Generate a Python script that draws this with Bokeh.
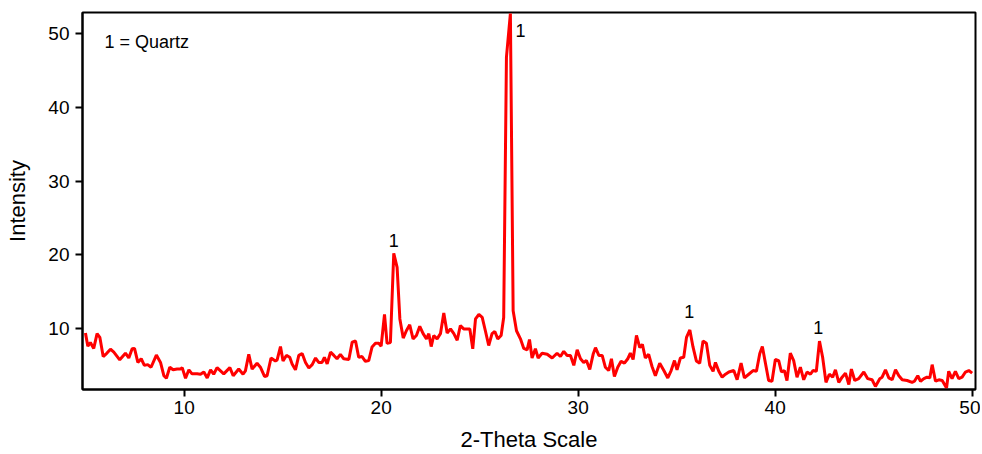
from bokeh.plotting import figure
from bokeh.models import Range1d, FixedTicker, ColumnDataSource
from bokeh.core.properties import value
from bokeh.embed import file_html
from bokeh.resources import INLINE

two_theta = [
    4.99, 5.11, 5.24, 5.41, 5.58, 5.72, 5.89, 6.06, 6.26, 6.43, 6.73, 7.02, 7.19, 7.36, 7.48,
    7.65, 7.82, 7.98, 8.15, 8.32, 8.59, 8.80, 8.97, 9.10, 9.27, 9.44, 9.64, 9.81, 9.90, 10.07,
    10.24, 10.40, 10.66, 10.83, 11.00, 11.17, 11.34, 11.50, 11.67, 12.01, 12.32, 12.49, 12.77, 12.99,
    13.11, 13.28, 13.45, 13.70, 13.87, 14.08, 14.21, 14.41, 14.63, 14.72, 14.89, 15.02, 15.19, 15.36,
    15.48, 15.65, 15.82, 15.99, 16.16, 16.33, 16.50, 16.67, 16.83, 17.00, 17.12, 17.26, 17.43, 17.60,
    17.76, 17.93, 18.10, 18.36, 18.53, 18.70, 18.86, 19.03, 19.20, 19.37, 19.54, 19.71, 19.88, 20.00,
    20.17, 20.30, 20.47, 20.64, 20.81, 20.95, 21.12, 21.28, 21.45, 21.62, 21.79, 21.96, 22.13, 22.30,
    22.42, 22.54, 22.67, 22.84, 23.01, 23.18, 23.35, 23.52, 23.69, 23.86, 24.02, 24.19, 24.36, 24.50,
    24.65, 24.79, 24.96, 25.13, 25.29, 25.46, 25.63, 25.77, 25.92, 26.09, 26.22, 26.36, 26.56, 26.70,
    26.87, 27.07, 27.24, 27.41, 27.53, 27.66, 27.83, 27.97, 28.17, 28.43, 28.68, 28.93, 29.10, 29.27,
    29.44, 29.61, 29.78, 29.95, 30.12, 30.28, 30.42, 30.59, 30.76, 30.88, 31.05, 31.22, 31.38, 31.55,
    31.69, 31.84, 32.01, 32.18, 32.35, 32.52, 32.65, 32.79, 32.96, 33.13, 33.26, 33.41, 33.58, 33.75,
    33.92, 34.14, 34.35, 34.55, 34.72, 34.89, 35.02, 35.19, 35.36, 35.50, 35.67, 35.83, 36.00, 36.17,
    36.34, 36.51, 36.68, 36.85, 36.97, 37.14, 37.31, 37.48, 37.65, 37.90, 38.07, 38.27, 38.44, 38.66,
    38.88, 39.05, 39.22, 39.35, 39.50, 39.67, 39.84, 40.01, 40.18, 40.32, 40.47, 40.60, 40.77, 40.94,
    41.11, 41.28, 41.45, 41.62, 41.79, 41.92, 42.09, 42.25, 42.41, 42.58, 42.75, 42.92, 43.06, 43.23,
    43.40, 43.57, 43.74, 43.87, 44.04, 44.24, 44.50, 44.70, 44.92, 45.09, 45.31, 45.43, 45.60, 45.77,
    45.94, 46.11, 46.28, 46.45, 46.70, 46.95, 47.07, 47.24, 47.38, 47.55, 47.71, 47.85, 47.97, 48.14,
    48.31, 48.48, 48.70, 48.81, 48.98, 49.15, 49.32, 49.49, 49.66, 49.83, 50.00,
]
intensity = [
    9.4, 7.6, 8.1, 7.3, 9.3, 8.8, 6.2, 6.6, 7.2, 6.8, 5.75, 6.65, 6.0, 7.25, 7.3,
    5.4, 5.9, 5.0, 5.1, 4.75, 6.4, 5.4, 3.6, 3.25, 4.75, 4.4, 4.5, 4.5, 4.7, 3.25,
    4.4, 3.85, 3.85, 3.8, 4.1, 3.3, 4.4, 3.8, 4.7, 3.85, 4.7, 3.6, 4.5, 3.8,
    4.25, 6.5, 4.5, 5.3, 4.75, 3.5, 3.6, 6.0, 5.6, 5.75, 7.55, 5.6, 6.35, 6.1,
    5.2, 4.4, 6.35, 6.6, 5.4, 4.65, 5.1, 6.0, 5.4, 5.4, 6.1, 5.2, 6.8, 6.35,
    5.9, 6.5, 5.9, 5.8, 8.15, 8.3, 6.1, 6.2, 5.55, 5.65, 7.5, 8.0, 8.0, 7.6,
    11.9, 8.0, 8.1, 20.2, 18.3, 11.3, 8.7, 9.7, 10.5, 8.6, 9.05, 10.3, 9.3, 8.6,
    9.3, 7.55, 9.05, 8.6, 9.3, 12.1, 9.4, 9.95, 9.3, 8.4, 10.4, 9.95, 9.95, 9.95,
    7.25, 11.3, 11.9, 11.5, 9.7, 7.7, 9.3, 9.6, 8.6, 9.05, 11.5, 46.8, 52.7, 12.4,
    9.7, 8.6, 7.3, 7.1, 8.5, 6.0, 7.25, 6.0, 6.65, 6.5, 6.0, 6.65, 6.2, 6.9,
    6.35, 6.35, 5.0, 7.1, 5.9, 5.4, 5.65, 4.45, 6.5, 7.4, 6.35, 6.35, 4.75, 4.3,
    5.9, 3.5, 4.75, 5.55, 5.3, 5.9, 6.65, 5.8, 9.05, 7.4, 7.85, 6.0, 6.5, 4.85,
    3.6, 5.3, 4.3, 3.3, 4.3, 5.65, 4.4, 6.0, 6.1, 8.8, 9.8, 7.5, 5.6, 5.3,
    8.3, 8.0, 5.0, 4.2, 5.4, 4.2, 3.4, 3.8, 4.1, 4.3, 3.05, 5.3, 3.3, 3.8,
    4.3, 4.2, 6.6, 7.55, 5.4, 2.95, 2.85, 5.8, 5.65, 4.1, 4.3, 2.95, 6.65, 5.65,
    3.4, 4.75, 3.05, 4.1, 3.8, 4.3, 4.2, 8.3, 6.1, 2.7, 3.8, 3.4, 4.4, 2.7,
    3.4, 3.95, 2.4, 4.5, 2.95, 3.2, 4.1, 3.2, 3.05, 2.15, 3.2, 3.4, 4.4, 3.3,
    3.05, 4.4, 3.6, 3.05, 2.95, 2.7, 2.85, 3.6, 2.85, 3.2, 3.4, 3.3, 5.1, 2.85,
    3.05, 2.95, 1.95, 4.2, 3.2, 4.2, 3.2, 3.4, 4.1, 4.3, 3.95,
]

peak_label_x = [20.64, 27.07, 35.64, 42.19]
peak_label_y = [21.9, 50.4, 12.3, 10.1]
peak_label_text = ["1", "1", "1", "1"]

legend_note = "1 = Quartz"
x_ticks = [10, 20, 30, 40, 50]
y_ticks = [10, 20, 30, 40, 50]

FONT = "Liberation Sans"

p = figure(width=980, height=454, output_backend="svg", toolbar_location=None,
           x_range=Range1d(4.84, 50.17), y_range=Range1d(1.73, 52.85),
           min_border_left=82, min_border_right=5, min_border_top=12, min_border_bottom=65)

p.line(two_theta, intensity, line_color="#ff0000", line_width=3)

src = ColumnDataSource(dict(x=peak_label_x, y=peak_label_y, t=peak_label_text))
p.text(x="x", y="y", text="t", source=src, text_align="center", text_baseline="middle",
       text_font=value(FONT), text_font_size="18px", text_color="black")
p.text(x=[5.96], y=[48.9], text=[legend_note], text_align="left", text_baseline="middle",
       text_font=value(FONT), text_font_size="18px", text_color="black")

p.grid.visible = False
p.outline_line_color = "black"
p.outline_line_width = 2
p.outline_line_alpha = 1

for ax in (p.xaxis[0], p.yaxis[0]):
    ax.axis_line_width = 2
    ax.axis_line_color = "black"
    ax.major_tick_line_width = 2
    ax.major_tick_line_color = "black"
    ax.major_tick_out = 7
    ax.major_tick_in = 0
    ax.minor_tick_line_color = None
    ax.major_label_text_font = FONT
    ax.major_label_text_font_size = "19px"
    ax.major_label_text_color = "black"
    ax.axis_label_text_font = FONT
    ax.axis_label_text_font_size = "22px"
    ax.axis_label_text_font_style = "normal"
    ax.axis_label_text_color = "black"

p.xaxis[0].ticker = FixedTicker(ticks=x_ticks)
p.yaxis[0].ticker = FixedTicker(ticks=y_ticks)
p.xaxis[0].axis_label = "2-Theta Scale"
p.yaxis[0].axis_label = "Intensity"
p.xaxis[0].major_label_standoff = 4
p.xaxis[0].axis_label_standoff = 10
p.yaxis[0].major_label_standoff = 6
p.yaxis[0].axis_label_standoff = 15

open("out.html", "w").write(file_html(p, INLINE))
